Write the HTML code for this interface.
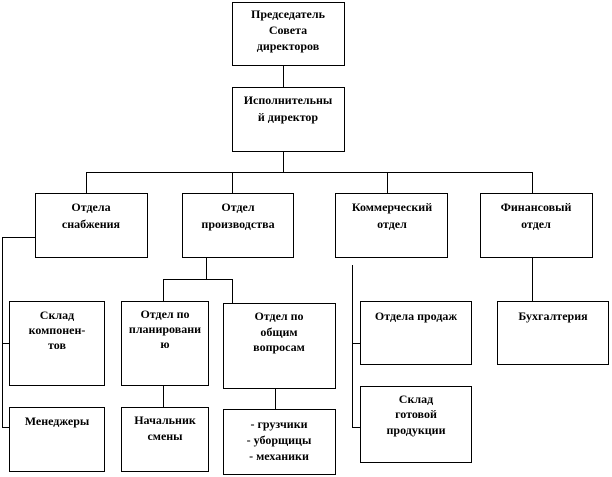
<!DOCTYPE html>
<html><head><meta charset="utf-8"><style>
html,body{margin:0;padding:0;background:#fff;}
svg{display:block;}
text{font-family:"Liberation Serif",serif;font-weight:bold;font-size:12px;fill:#000;text-anchor:middle;}
</style></head><body>
<svg width="612" height="477" viewBox="0 0 612 477" xmlns="http://www.w3.org/2000/svg">
<g fill="none" stroke="#000" stroke-width="1">
<rect x="232.5" y="2.5" width="112" height="63"/>
<rect x="232.5" y="87.5" width="112" height="64"/>
<rect x="35.5" y="193.5" width="112" height="64"/>
<rect x="182.5" y="193.5" width="111" height="64"/>
<rect x="335.5" y="193.5" width="112" height="64"/>
<rect x="480.5" y="193.5" width="112" height="64"/>
<rect x="9.5" y="301.5" width="95" height="84"/>
<rect x="9.5" y="407.5" width="95" height="64"/>
<rect x="121.5" y="301.5" width="87" height="84"/>
<rect x="121.5" y="407.5" width="87" height="64"/>
<rect x="223.5" y="303.5" width="112" height="85"/>
<rect x="223.5" y="409.5" width="112" height="65"/>
<rect x="360.5" y="301.5" width="111" height="63"/>
<rect x="360.5" y="386.5" width="111" height="76"/>
<rect x="497.5" y="301.5" width="111" height="63"/>
<path d="M283.5 65v22M283.5 152v20M86.5 172.5H532.5M86.5 172v21M232.5 172v21M387.5 172v21M532.5 172v21
M35 237.5H2.5V427.5H9M2 343.5H9
M206.5 258v21M163.5 279.5H232.5M163.5 279v22M232.5 279v24M163.5 386v21M275.5 389v20
M352.5 265V427.5H360M352 343.5H360M532.5 258v43"/>
</g>
<text x="288" y="18">Председатель</text>
<text x="288" y="34">Совета</text>
<text x="288" y="50">директоров</text>
<text x="288" y="104">Исполнительны</text>
<text x="288" y="121">й директор</text>
<text x="91" y="211">Отдела</text>
<text x="91" y="228">снабжения</text>
<text x="238" y="211">Отдел</text>
<text x="238" y="228">производства</text>
<text x="392" y="211">Коммерческий</text>
<text x="392" y="228">отдел</text>
<text x="536" y="211">Финансовый</text>
<text x="536" y="228">отдел</text>
<text x="57" y="319">Склад</text>
<text x="57" y="334">компонен-</text>
<text x="57" y="349">тов</text>
<text x="57" y="425">Менеджеры</text>
<text x="165" y="318">Отдел по</text>
<text x="165" y="333">планировани</text>
<text x="165" y="348">ю</text>
<text x="165" y="424">Начальник</text>
<text x="165" y="440">смены</text>
<text x="279" y="320">Отдел по</text>
<text x="279" y="336">общим</text>
<text x="279" y="351">вопросам</text>
<text x="279" y="428">- грузчики</text>
<text x="279" y="444">- уборщицы</text>
<text x="279" y="460">- механики</text>
<text x="416" y="320">Отдела продаж</text>
<text x="416" y="403">Склад</text>
<text x="416" y="418">готовой</text>
<text x="416" y="434">продукции</text>
<text x="553" y="320">Бухгалтерия</text>
</svg>
</body></html>
